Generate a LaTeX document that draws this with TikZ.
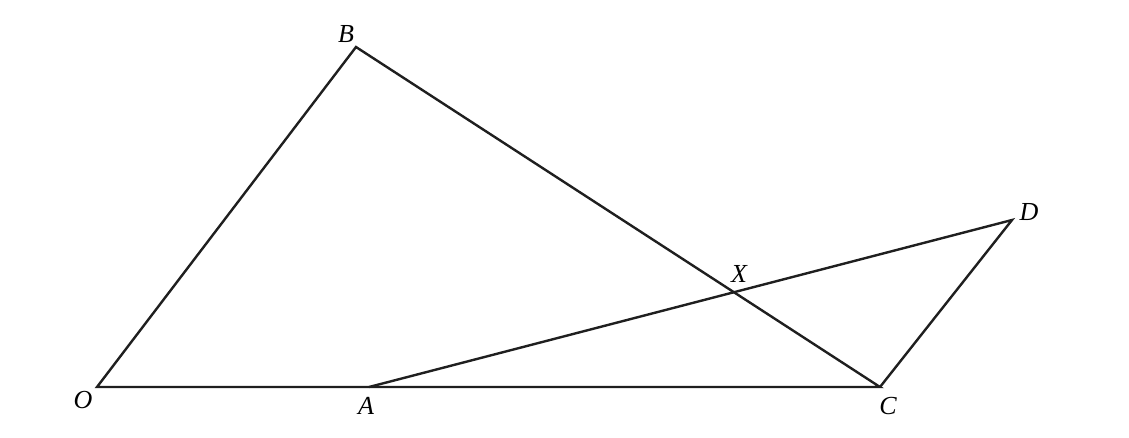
\documentclass[tikz,border=0pt]{standalone}
\usepackage{fontspec}
\setmainfont{Liberation Serif}
\usetikzlibrary{intersections}
\begin{document}
\begin{tikzpicture}[x=1pt,y=-1pt,
  seg/.style={line width=2.4pt,draw=black!88,line join=miter},
  lbl/.style={font=\fontsize{26}{26}\selectfont\itshape,inner sep=0pt}]
\useasboundingbox (0,0) rectangle (1129,437);
\coordinate (O) at (97,387);
\coordinate (B) at (356,47);
\coordinate (A) at (369,387);
\coordinate (C) at (880,387);
\coordinate (D) at (1012,220);
\draw[seg] (C) -- (O) -- (B) -- cycle;
\draw[seg] (A) -- (D) -- (C);
\coordinate (X) at (734,292);
\node[lbl] (lB) at (346,34) {B};
\node[lbl] (lO) at (83,400) {O};
\node[lbl] (lA) at (366,406) {A};
\node[lbl] (lC) at (888,406) {C};
\node[lbl] (lD) at (1029,212) {D};
\node[lbl] (lX) at (739,274) {X};
\end{tikzpicture}
\end{document}
